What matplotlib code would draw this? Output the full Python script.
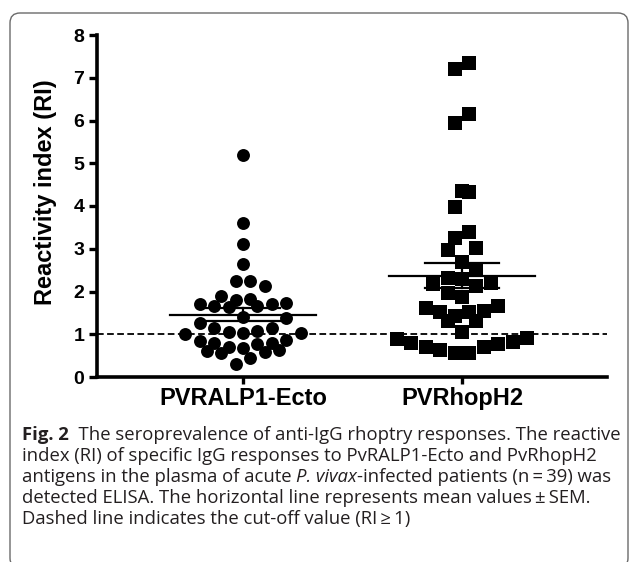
import numpy as np
import matplotlib
matplotlib.use("Agg")
import matplotlib.pyplot as plt
from matplotlib.patches import FancyBboxPatch

# ── データ: 各患者の Reactivity index (RI) ──
groups = ["PVRALP1-Ecto", "PVRhopH2"]
ralp1_ri = [5.20, 3.60, 3.10, 2.65, 2.25, 2.25, 2.13, 1.89, 1.82, 1.80,
            1.72, 1.70, 1.70, 1.66, 1.66, 1.64, 1.41, 1.37, 1.27, 1.14,
            1.14, 1.08, 1.06, 1.04, 1.03, 1.00, 0.87, 0.85, 0.80, 0.80,
            0.77, 0.70, 0.68, 0.63, 0.61, 0.59, 0.56, 0.45, 0.30]
rhoph2_ri = [7.35, 7.20, 6.15, 5.94, 4.35, 4.33, 3.98, 3.39, 3.25, 3.02,
             2.97, 2.69, 2.53, 2.32, 2.29, 2.20, 2.18, 2.13, 1.97, 1.87,
             1.66, 1.61, 1.54, 1.52, 1.52, 1.43, 1.31, 1.31, 1.05, 0.91,
             0.89, 0.82, 0.80, 0.77, 0.70, 0.70, 0.63, 0.56, 0.56]
y_ticks = [0, 1, 2, 3, 4, 5, 6, 7, 8]
cutoff = 1.0

caption_lines = [
    [("Fig. 2", "bold", "normal"),
     ("  The seroprevalence of anti-IgG rhoptry responses. The reactive", "normal", "normal")],
    [("index (RI) of specific IgG responses to PvRALP1-Ecto and PvRhopH2", "normal", "normal")],
    [("antigens in the plasma of acute ", "normal", "normal"),
     ("P. vivax", "normal", "italic"),
     ("-infected patients (n\u2009=\u200939) was", "normal", "normal")],
    [("detected ELISA. The horizontal line represents mean values\u2009\u00b1\u2009SEM.", "normal", "normal")],
    [("Dashed line indicates the cut-off value (RI\u2009\u2265\u20091)", "normal", "normal")],
]

# 描画パラメータ
W, H = 629, 562
ROW_H = 0.36     # swarm の1段の高さ (RI)
SWARM_DX = 0.066  # 横方向の間隔 (カテゴリ単位)
MEAN_HW = 0.333
SEM_HW = 0.17
AXFONT = "Liberation Sans"
CAPFONT = ["Open Sans", "DejaVu Sans"]
CAPSIZE = 13.3


def swarm_offsets(values):
    """Prism風: 値を段に分け、各段で中央から外側へ並べる"""
    vals = np.asarray(values, dtype=float)
    order = np.argsort(vals, kind="stable")
    offs = np.zeros(len(vals))
    i = 0
    while i < len(order):
        start = vals[order[i]]
        row = [order[i]]
        j = i + 1
        while j < len(order) and vals[order[j]] - start < ROW_H:
            row.append(order[j])
            j += 1
        n = len(row)
        slots = (np.arange(n) - (n - 1) / 2.0) * SWARM_DX
        slot_order = np.argsort(np.abs(slots) + 1e-9 * np.arange(n), kind="stable")
        for k, idx in enumerate(row):
            offs[idx] = slots[slot_order[k]]
        i = j
    return offs


fig = plt.figure(figsize=(W / 100, H / 100), dpi=100)
ax = fig.add_axes([97 / W, 1 - 377 / H, (607 - 97) / W, (377 - 35) / H])

# 枠線 (角丸)
box = FancyBboxPatch((10 / 100, (H - 568) / 100), (628 - 10) / 100, (568 - 13) / 100,
                     boxstyle="round,pad=0,rounding_size=0.1",
                     transform=fig.dpi_scale_trans, facecolor="none",
                     edgecolor="#6a6a6a", linewidth=1.0)
fig.add_artist(box)

# 点
for pos, vals, marker, ms in [(1, ralp1_ri, "o", 9.3), (2, rhoph2_ri, "s", 9.4)]:
    xs = pos + swarm_offsets(vals)
    ax.plot(xs, vals, linestyle="none", marker=marker, markersize=ms,
            color="black", markeredgewidth=0, zorder=2)
    mean = np.mean(vals)
    sem = np.std(vals, ddof=1) / np.sqrt(len(vals))
    ax.plot([pos - MEAN_HW, pos + MEAN_HW], [mean, mean], color="black", lw=1.6, zorder=3)
    for yv in (mean - sem, mean + sem):
        ax.plot([pos - SEM_HW, pos + SEM_HW], [yv, yv], color="black", lw=1.6, zorder=3)
    ax.plot([pos, pos], [mean - sem, mean + sem], color="black", lw=1.6, zorder=3)

# カットオフ線
ax.axhline(cutoff, color="black", lw=1.3, linestyle=(0, (3.7, 1.9)), zorder=1)

ax.set_xlim(1 / 3, 2.662)
ax.set_ylim(0, 8)
ax.set_yticks(y_ticks)
ax.set_xticks([1, 2])
ax.set_xticklabels(groups)
for s in ["top", "right"]:
    ax.spines[s].set_visible(False)
for s in ["left", "bottom"]:
    ax.spines[s].set_linewidth(2.6)
ax.tick_params(axis="y", length=6, width=2.4, pad=3)
ax.tick_params(axis="x", length=5, width=2.4, pad=2)
for lab in ax.get_yticklabels():
    lab.set_fontfamily(AXFONT)
    lab.set_fontweight("bold")
    lab.set_fontsize(14)
for lab in ax.get_xticklabels():
    lab.set_fontfamily(AXFONT)
    lab.set_fontweight("bold")
    lab.set_fontsize(17)

fig.text(46 / W, 1 - 192 / H, "Reactivity index (RI)", rotation=90,
         ha="center", va="center", fontsize=17, fontweight="bold", family=AXFONT)

# キャプション
baselines = [440, 461, 482, 503, 524]
for parts, yb in zip(caption_lines, baselines):
    prev = None
    for txt, wt, st in parts:
        if prev is None:
            prev = fig.text(22 / W, 1 - yb / H, txt, fontsize=CAPSIZE, fontweight=wt,
                            fontstyle=st, family=CAPFONT, va="baseline", color="#231f20")
        else:
            # 前のテキストの右下に続けて置く
            prev = ax.annotate(txt, xy=(1, 0), xycoords=prev, va="bottom", ha="left",
                               fontsize=CAPSIZE, fontweight=wt, fontstyle=st,
                               family=CAPFONT, color="#231f20")

fig.savefig("out.png", dpi=100)
